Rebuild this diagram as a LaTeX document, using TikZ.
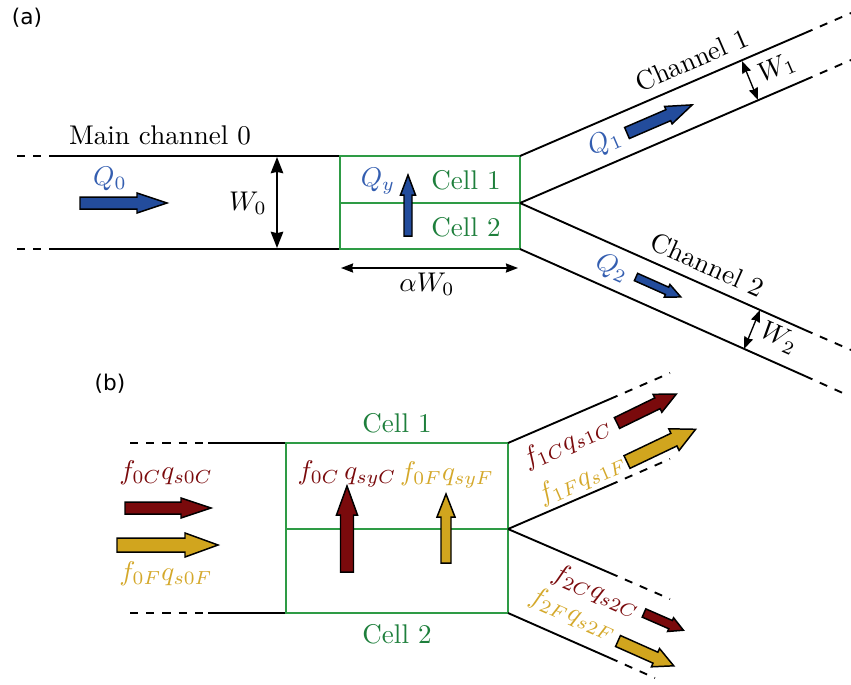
\documentclass[tikz,border=0pt]{standalone}
\usepackage{amsmath}
\usepackage{fontspec}
\newfontfamily\panelfont{DejaVu Sans}
\usetikzlibrary{arrows.meta}
\definecolor{qblue}{RGB}{35,76,156}
\definecolor{qtext}{RGB}{52,94,176}
\definecolor{cgreen}{RGB}{46,155,69}
\definecolor{ctext}{RGB}{30,127,60}
\definecolor{coarse}{RGB}{122,10,12}
\definecolor{fine}{RGB}{209,165,30}
\definecolor{finetext}{RGB}{212,168,42}
\tikzset{
wall/.style={line width=0.7pt},
cell/.style={draw=cgreen, line width=0.5pt},
dim/.style={<->, line width=0.8pt, >={Stealth[length=6pt,width=4.6pt,inset=0.5pt]}},
smalldim/.style={<->, line width=0.5pt, >={Stealth[length=4.5pt,width=3.4pt,inset=0.4pt]}},
flow/.style={draw=black, line width=0.55pt},
panel/.style={font=\panelfont\footnotesize},
%fat arrow: length, head length, half body, half head
pics/fatarrow/.style n args={4}{code={
  \draw[pic actions] (0,-#3) -- ({#1-#2},-#3) -- ({#1-#2},-#4) -- (#1,0)
    -- ({#1-#2},#4) -- ({#1-#2},#3) -- (0,#3) -- cycle;}},
}

\begin{document}
\begin{tikzpicture}[x=0.013cm, y=-0.013cm]
\useasboundingbox (0,0) rectangle (851,684);

%%% (a) single cell model
\node[panel] (pa) at (27,18) {(a)};
\coordinate (A1) at (520,156);
\coordinate (A0) at (520,203);
\coordinate (A2) at (520,249);
\coordinate (A1t) at (805,33);
\coordinate (A1b) at (805,80);
\coordinate (A2t) at (805,330);
\coordinate (A2b) at (805,376);

\draw[wall,dashed] (17,156) -- (58,156) (17,249) -- (58,249);
\draw[wall] (58,156) -- (340,156) (58,249) -- (340,249);
\draw[cell] (340,156) rectangle (A2) (340,203) -- (A0);
\draw[wall] (A1) -- node[sloped,above,pos=.63] (ch1) {Channel 1} (A1t)
  (A0) -- (A1b)
  (A0) -- node[sloped,above,pos=.63] (ch2) {Channel 2} (A2t)
  (A2) -- (A2b);
\draw[wall,dashed] (A1t) -- ++(46,-20) (A1b) -- ++(46,-20)
  (A2t) -- ++(46,20) (A2b) -- ++(40,18);

\node (main) at (160,135) {Main channel 0};
\node[text=ctext] (c1) at (466,180) {Cell 1};
\node[text=ctext] (c2) at (466,227) {Cell 2};

% widths
\coordinate (w0a) at (277,157);
\coordinate (w0b) at (277,248);
\draw[dim] (w0a) -- (w0b);
\node (W0) at (248,203) {$W_0$};
\coordinate (aw0a) at (341,268);
\coordinate (aw0b) at (518,268);
\draw[smalldim] (aw0a) -- (aw0b);
\node (aW0) at (427,284) {$\alpha W_0$};
\coordinate (w1a) at (742,61);
\coordinate (w1b) at (758,100);
\draw[smalldim] (w1a) -- (w1b);
\node[rotate=23.35] (W1) at (777,68) {$W_1$};
\coordinate (w2a) at (760,310);
\coordinate (w2b) at (744,349);
\draw[smalldim] (w2a) -- (w2b);
\node[rotate=-24] (W2) at (779,338) {$W_2$};

% flow rates
\node[text=qtext] (Q0) at (110,179) {$Q_0$};
\pic[flow,fill=qblue] at (80,203) {fatarrow={87}{30}{6}{10}};
\node[text=qtext] (Qy) at (378,181) {$Q_y$};
\pic[flow,fill=qblue,rotate=90] at (408,236) {fatarrow={61}{20}{4}{7.5}};
\node[text=qtext,rotate=23.35] (Q1) at (605,143) {$Q_1$};
\pic[flow,fill=qblue,rotate=23.35] at (627,133) {fatarrow={71}{26}{6}{9.5}};
\node[text=qtext,rotate=-24] (Q2) at (612,268) {$Q_2$};
\pic[flow,fill=qblue,rotate=-24] at (636,277) {fatarrow={49}{15}{4}{7}};

%%% (b) sediment fluxes
\node[panel] (pb) at (110,384) {(b)};
\coordinate (B1) at (508,443);
\coordinate (B0) at (508,529);
\coordinate (B2) at (508,613);
\coordinate (B1t) at (610,399);
\coordinate (B1b) at (610,485);
\coordinate (B2t) at (610,573);
\coordinate (B2b) at (610,658);

\draw[wall,dashed] (130,443) -- (208,443) (130,613) -- (208,613);
\draw[wall] (208,443) -- (286,443) (208,613) -- (286,613);
\draw[cell] (286,443) rectangle (B2) (286,529) -- (B0);
\draw[wall] (B1) -- (B1t) (B0) -- (B1b) (B0) -- (B2t) (B2) -- (B2b);
\draw[wall,dashed] (B1t) -- ++(60,-26) (B1b) -- ++(60,-26)
  (B2t) -- ++(60,26) (B2b) -- ++(45,20);

\node[text=ctext] (d1) at (397,423) {Cell 1};
\node[text=ctext] (d2) at (397,634) {Cell 2};

% inflow
\node[text=coarse] (f0C) at (166,473) {$f_{0C}q_{s0C}$};
\pic[flow,fill=coarse] at (125,508) {fatarrow={86}{30}{6}{10}};
\pic[flow,fill=fine] at (117,545) {fatarrow={101}{33}{7}{12}};
\node[text=finetext] (f0F) at (166,574) {$f_{0F}q_{s0F}$};

% exchange between cells
\node[text=coarse] (fyC) at (347,474) {$f_{0C}\,q_{syC}$};
\pic[flow,fill=coarse,rotate=90] at (347,572) {fatarrow={86}{29}{6.5}{10.5}};
\node[text=finetext] (fyF) at (447,475) {$f_{0F}q_{syF}$};
\pic[flow,fill=fine,rotate=90] at (446,563) {fatarrow={69}{23}{5}{9}};

% outflow
\node[text=coarse,rotate=23.35] (f1C) at (567,443) {$f_{1C}q_{s1C}$};
\node[text=finetext,rotate=23.35] (f1F) at (582,479) {$f_{1F}q_{s1F}$};
\pic[flow,fill=coarse,rotate=26] at (617,423) {fatarrow={66}{21}{6}{10}};
\pic[flow,fill=fine,rotate=25.5] at (627,462) {fatarrow={76}{24}{7}{12}};
\node[text=coarse,rotate=-24] (f2C) at (596,591) {$f_{2C}q_{s2C}$};
\node[text=finetext,rotate=-24] (f2F) at (573,614) {$f_{2F}q_{s2F}$};
\pic[flow,fill=coarse,rotate=-23.6] at (644,613) {fatarrow={43}{14}{4.5}{7.5}};
\pic[flow,fill=fine,rotate=-24] at (618,641) {fatarrow={61}{20}{6}{10}};
\end{tikzpicture}
\end{document}
